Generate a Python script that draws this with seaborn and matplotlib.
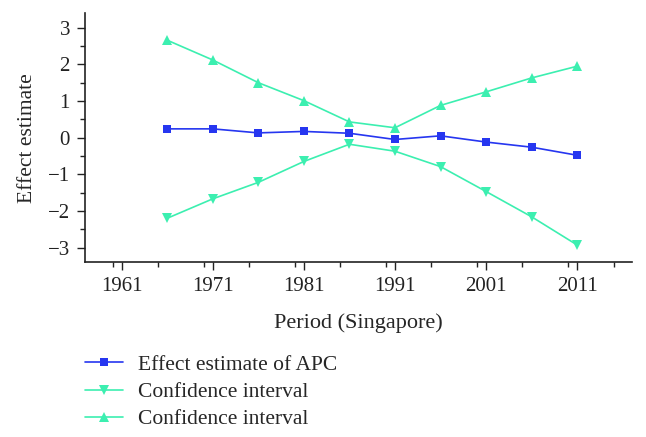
import numpy as np
import pandas as pd
import matplotlib
matplotlib.use("Agg")
import matplotlib.pyplot as plt
import seaborn as sns
from matplotlib.ticker import MultipleLocator


## Data
periods = [1966, 1971, 1976, 1981, 1986, 1991, 1996, 2001, 2006, 2011]
estimate = [0.24, 0.24, 0.13, 0.17, 0.12, -0.05, 0.05, -0.12, -0.26, -0.48]
ci_lower = [-2.20, -1.67, -1.22, -0.65, -0.18, -0.37, -0.79, -1.47, -2.16, -2.93]
ci_upper = [2.66, 2.12, 1.50, 1.01, 0.43, 0.27, 0.88, 1.25, 1.63, 1.95]
xticks = [1961, 1971, 1981, 1991, 2001, 2011]

blue = "#2636f0"
aqua = "#3cefb0"

## Style
sns.set_style("ticks")
plt.rcParams["font.family"] = ["Liberation Serif", "DejaVu Serif"]

fig = plt.figure(figsize=(6.46, 4.37), dpi=100)
ax = fig.add_axes([0.132, 0.400, 0.846, 0.570])

sns.lineplot(x=periods, y=estimate, ax=ax, color=blue, marker="s", markersize=5.5,
             markeredgewidth=0, linewidth=1.2, label="Effect estimate of APC")
sns.lineplot(x=periods, y=ci_lower, ax=ax, color=aqua, marker="v", markersize=7.5,
             markeredgewidth=0, linewidth=1.2, label="Confidence interval")
sns.lineplot(x=periods, y=ci_upper, ax=ax, color=aqua, marker="^", markersize=7.5,
             markeredgewidth=0, linewidth=1.2, label="Confidence interval")

ax.set_xlim(1957, 2017)
ax.set_ylim(-3.4, 3.4)
ax.set_xticks(xticks)
ax.xaxis.set_minor_locator(MultipleLocator(5))
ax.set_yticks([-3, -2, -1, 0, 1, 2, 3])
ax.set_yticklabels(["\u22123", "\u22122", "\u22121", "0", "1", "2", "3"])
ax.yaxis.set_minor_locator(MultipleLocator(0.5))
ax.tick_params(which="major", direction="out", length=6, width=1, labelsize=15,
               colors="#222222", pad=5)
ax.tick_params(which="minor", direction="out", length=3.5, width=1, colors="#222222")
for s in ["left", "bottom"]:
    ax.spines[s].set_linewidth(1.2)
    ax.spines[s].set_color("#222222")
sns.despine(ax=ax)

ax.set_xlabel("Period (Singapore)", fontsize=16, labelpad=12)
ax.set_ylabel("Effect estimate", fontsize=15.5, labelpad=8)

fig.legend(*ax.get_legend_handles_labels(), loc="upper left",
           bbox_to_anchor=(0.1316, 0.188), frameon=False,
           fontsize=15.5, handlelength=1.75, handletextpad=0.7, labelspacing=0.33,
           borderaxespad=0, borderpad=0)
ax.get_legend().remove()

fig.savefig("out.png", dpi=100)
